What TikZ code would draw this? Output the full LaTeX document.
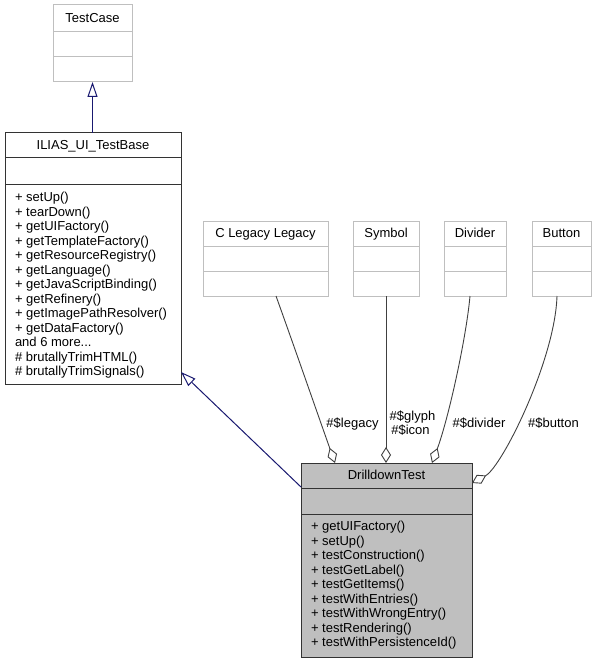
\documentclass[tikz,border=0pt]{standalone}
\usepackage{fontspec}
\setmainfont{Liberation Sans}
\usetikzlibrary{arrows.meta,calc}
\definecolor{extgrey}{HTML}{BFBFBF}
\definecolor{edgegrey}{HTML}{404040}
\definecolor{inhblue}{HTML}{191970}
\definecolor{boxline}{HTML}{333333}
\begin{document}
\begin{tikzpicture}[x=1pt,y=-1pt,
  every node/.style={font=\fontsize{13}{14.5}\selectfont, inner sep=0pt, outer sep=0pt},
  extbox/.style={draw=extgrey, fill=white, line width=1pt, rectangle},
  clsbox/.style={draw=boxline, fill=white, line width=1pt, rectangle},
  curbox/.style={draw=boxline, fill=extgrey, line width=1pt, rectangle},
  extdiv/.style={draw=extgrey, line width=1pt},
  clsdiv/.style={draw=boxline, line width=1pt},
  title/.style={anchor=base},
  member/.style={anchor=base west},
  elabel/.style={anchor=base},
  inh/.style={draw=inhblue, line width=1pt, -{Triangle[open,length=15pt,width=10pt,fill=white]}},
  agg/.style={draw=edgegrey, line width=0.9pt, {Diamond[open,length=16pt,width=10pt]}-}]
\useasboundingbox (0,0) rectangle (597,663);

% ---- boxes ----
\node[extbox, minimum width=79pt, minimum height=77pt] (testcase) at (92.5,43.5) {};
\draw[extdiv] (testcase.west |- 0,32) -- (testcase.east |- 0,32);
\draw[extdiv] (testcase.west |- 0,57) -- (testcase.east |- 0,57);
\node[title] (tctitle) at (92.5,22.7) {TestCase};

\node[clsbox, minimum width=176pt, minimum height=251pt] (ilias) at (93,258.5) {};
\draw[clsdiv] (ilias.west |- 0,158) -- (ilias.east |- 0,158);
\draw[clsdiv] (ilias.west |- 0,184) -- (ilias.east |- 0,184);
\node[title] (iltitle) at (93,149.7) {ILIAS\_UI\_TestBase};
\foreach \t [count=\i from 0] in {{+ setUp()},{+ tearDown()},{+ getUIFactory()},{+ getTemplateFactory()},{+ getResourceRegistry()},{+ getLanguage()},{+ getJavaScriptBinding()},{+ getRefinery()},{+ getImagePathResolver()},{+ getDataFactory()},{and 6 more{.}{.}{.}},{\# brutallyTrimHTML()},{\# brutallyTrimSignals()}}
  \node[member] (ilm\i) at (15,201.7+14.5*\i) {\t};

\node[extbox, minimum width=125pt, minimum height=75pt] (legacy) at (265.5,258.5) {};
\draw[extdiv] (legacy.west |- 0,246) -- (legacy.east |- 0,246);
\draw[extdiv] (legacy.west |- 0,271) -- (legacy.east |- 0,271);
\node[title] (lgtitle) at (265.5,237.7) {C Legacy Legacy};

\node[extbox, minimum width=66pt, minimum height=75pt] (symbol) at (386,258.5) {};
\draw[extdiv] (symbol.west |- 0,246) -- (symbol.east |- 0,246);
\draw[extdiv] (symbol.west |- 0,271) -- (symbol.east |- 0,271);
\node[title] (sytitle) at (386,237.7) {Symbol};

\node[extbox, minimum width=62pt, minimum height=75pt] (divider) at (475,258.5) {};
\draw[extdiv] (divider.west |- 0,246) -- (divider.east |- 0,246);
\draw[extdiv] (divider.west |- 0,271) -- (divider.east |- 0,271);
\node[title] (dvtitle) at (475,237.7) {Divider};

\node[extbox, minimum width=59pt, minimum height=75pt] (button) at (561.5,258.5) {};
\draw[extdiv] (button.west |- 0,246) -- (button.east |- 0,246);
\draw[extdiv] (button.west |- 0,271) -- (button.east |- 0,271);
\node[title] (bttitle) at (561.5,237.7) {Button};

\node[curbox, minimum width=171pt, minimum height=194pt] (drill) at (386.5,560) {};
\draw[clsdiv] (drill.west |- 0,488) -- (drill.east |- 0,488);
\draw[clsdiv] (drill.west |- 0,514) -- (drill.east |- 0,514);
\node[title] (drtitle) at (386.5,479.7) {DrilldownTest};
\foreach \t [count=\i from 0] in {{+ getUIFactory()},{+ setUp()},{+ testConstruction()},{+ testGetLabel()},{+ testGetItems()},{+ testWithEntries()},{+ testWithWrongEntry()},{+ testRendering()},{+ testWithPersistenceId()}}
  \node[member] (drm\i) at (311,530.7+14.5*\i) {\t};

% ---- inheritance ----
\draw[inh] (testcase.south |- ilias.north) -- (testcase.south);
\draw[inh] ($(drill.north west)+(0,24)$) -- ($(ilias.south east)+(0,-12)$);

% ---- aggregations ----
\draw[agg] ($(drill.north west)+(34,0)$) .. controls (318,415) and (294,346) .. ($(legacy.south)+(10.5,0)$);
\draw[agg] (symbol.south |- drill.north) -- (symbol.south);
\draw[agg] ($(drill.north west)+(131,0)$) .. controls (448,420) and (466,340) .. ($(divider.south)+(-5,0)$);
\draw[agg] ($(drill.north east)+(0,20)$) .. controls (502,467) and (555,360) .. ($(button.south)+(-4.5,0)$);

% ---- edge labels ----
\node[elabel] (llegacy) at (352.5,427.7) {\#\$legacy};
\node[elabel] (lglyph) at (412.5,420.7) {\#\$glyph};
\node[elabel] (licon) at (410.5,434.7) {\#\$icon};
\node[elabel] (ldivider) at (479,427.7) {\#\$divider};
\node[elabel] (lbutton) at (553.5,427.7) {\#\$button};
\end{tikzpicture}
\end{document}
